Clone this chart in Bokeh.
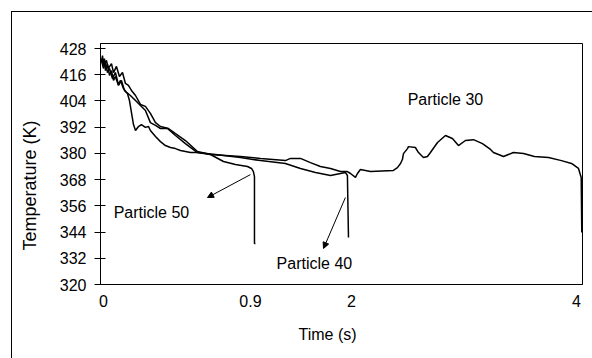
from bokeh.plotting import figure
from bokeh.models import FixedTicker, Range1d, Label, Arrow, NormalHead, Title
from bokeh.embed import file_html
from bokeh.resources import INLINE

# Time axis (display units) tick positions and their printed labels
x_tick_pos = [0, 1.243, 2.097, 4.0]
x_tick_labels = ["0", "0.9", "2", "4"]
y_ticks = [320, 332, 344, 356, 368, 380, 392, 404, 416, 428]

# Particle 50
t50 = [-0.017, -0.008, 0.0, 0.008, 0.017, 0.034, 0.051, 0.068, 0.085, 0.101, 0.127, 0.152, 0.178,
       0.203, 0.220, 0.237, 0.254, 0.271, 0.296, 0.321, 0.355, 0.381, 0.397, 0.440, 0.482, 0.524,
       0.567, 0.609, 0.651, 0.736, 0.795, 0.905, 1.015, 1.116, 1.218, 1.252, 1.268, 1.277, 1.277, 1.285]
T50 = [421.6, 424.8, 420.2, 423.4, 417.9, 420.7, 415.7, 417.9, 413.4, 415.2, 411.1, 413.4, 408.8,
       407.4, 404.2, 398.7, 393.2, 390.5, 392.3, 393.2, 391.9, 392.3, 390.5, 387.7, 385.4, 383.6,
       382.7, 382.2, 381.3, 380.4, 380.4, 379.5, 376.3, 374.9, 374.0, 373.1, 371.7, 369.4, 338.8, 338.8]

# Particle 40
t40 = [-0.017, 0.0, 0.017, 0.034, 0.051, 0.076, 0.101, 0.127, 0.144, 0.169, 0.195, 0.228, 0.271,
       0.313, 0.355, 0.397, 0.440, 0.482, 0.541, 0.609, 0.693, 0.795, 0.947, 1.159, 1.328, 1.539,
       1.666, 1.793, 1.920, 2.004, 2.046, 2.063, 2.072]
T40 = [422.5, 418.9, 421.6, 417.0, 418.9, 414.3, 417.0, 411.5, 413.4, 409.7, 407.9, 406.5, 404.2,
       401.9, 399.6, 394.1, 392.8, 391.4, 391.4, 388.2, 384.5, 380.4, 379.5, 378.1, 376.7, 375.4,
       373.1, 371.3, 369.9, 370.8, 371.3, 369.9, 341.5]

# Particle 30
t30 = [-0.017, 0.0, 0.025, 0.042, 0.068, 0.085, 0.110, 0.135, 0.161, 0.186, 0.211, 0.237, 0.271,
       0.313, 0.355, 0.397, 0.440, 0.482, 0.550, 0.609, 0.693, 0.795, 0.905, 1.159, 1.328, 1.539,
       1.581, 1.666, 1.750, 1.835, 1.920, 2.004, 2.063, 2.089, 2.131, 2.148, 2.173, 2.258, 2.452,
       2.486, 2.512, 2.528, 2.537, 2.571, 2.579, 2.638, 2.664, 2.706, 2.740, 2.765, 2.825, 2.892,
       2.951, 3.002, 3.061, 3.129, 3.205, 3.273, 3.298, 3.383, 3.467, 3.552, 3.645, 3.764, 3.873,
       3.958, 4.017, 4.040, 4.045]
T30 = [423.4, 420.7, 422.5, 418.9, 421.1, 417.0, 419.8, 415.2, 417.0, 412.0, 411.1, 408.8, 406.5,
       402.4, 401.5, 398.3, 394.1, 392.3, 391.4, 389.1, 385.9, 380.9, 379.5, 378.6, 377.7, 376.7,
       377.7, 377.7, 375.8, 374.0, 373.1, 371.7, 371.7, 370.8, 369.0, 370.8, 372.6, 371.7, 372.2,
       373.5, 375.4, 377.2, 379.9, 382.2, 383.1, 382.7, 380.4, 378.1, 378.6, 380.4, 385.0, 388.2,
       386.8, 383.6, 385.9, 386.3, 384.5, 381.8, 380.4, 378.6, 380.4, 380.0, 378.6, 378.1, 376.7,
       375.4, 373.1, 369.0, 343.8]

FONT = "Liberation Sans"

# outer chart border drawn as two 1px lines (left and top) behind a transparent canvas border
border_css = ("linear-gradient(#000, #000) 11px 11px / 1px 400px no-repeat, "
              "linear-gradient(#000, #000) 11px 11px / 700px 1px no-repeat, #fff")

p = figure(width=592, height=358, output_backend="svg", toolbar_location=None,
           x_range=Range1d(-0.025, 4.051), y_range=Range1d(320, 430.3),
           min_border_left=100, min_border_right=10, min_border_top=43, min_border_bottom=74,
           styles={"background": border_css})
p.background_fill_color = "white"
p.border_fill_color = None
p.outline_line_color = "black"
p.outline_line_width = 1
p.xgrid.visible = False
p.ygrid.visible = False

for t, T in [(t50, T50), (t40, T40), (t30, T30)]:
    p.line(t, T, line_color="black", line_width=1.5)

# y axis
ya = p.yaxis[0]
ya.ticker = FixedTicker(ticks=y_ticks)
ya.minor_tick_line_color = None
ya.major_tick_in = 5
ya.major_tick_out = 6
ya.major_label_standoff = 8
ya.major_label_text_font = FONT
ya.major_label_text_font_size = "16px"
ya.major_label_text_color = "black"
ya.axis_line_color = "black"
ya.major_tick_line_color = "black"

# x axis
xa = p.xaxis[0]
xa.ticker = FixedTicker(ticks=x_tick_pos)
xa.major_label_overrides = {pos: lab for pos, lab in zip(x_tick_pos, x_tick_labels)}
xa.minor_tick_line_color = None
xa.major_tick_line_color = None
xa.major_tick_in = 0
xa.major_tick_out = 0
xa.major_label_standoff = 10
xa.major_label_text_font = FONT
xa.major_label_text_font_size = "16px"
xa.major_label_text_color = "black"
xa.axis_line_color = "black"

# axis titles
p.add_layout(Title(text="Temperature (K)", align="left", offset=34, standoff=33,
                   text_font=FONT, text_font_size="18px", text_font_style="normal",
                   text_color="black"), "left")
p.add_layout(Title(text="Time (s)", align="left", offset=198, standoff=28,
                   text_font=FONT, text_font_size="16px", text_font_style="normal",
                   text_color="black"), "below")

# annotations
for x, y, txt in [(2.892, 404.7, "Particle 30"), (0.406, 352.9, "Particle 50"), (1.784, 329.6, "Particle 40")]:
    p.add_layout(Label(x=x, y=y, text=txt, text_align="center", text_baseline="middle",
                       text_font=FONT, text_font_size="16px", text_color="black"))

for x0, y0, x1, y1 in [(1.243, 370.3, 0.880, 359.8), (2.046, 359.8, 1.861, 336.5)]:
    p.add_layout(Arrow(x_start=x0, y_start=y0, x_end=x1, y_end=y1, line_color="black", line_width=1,
                       end=NormalHead(size=6, fill_color="black", line_color="black")))

open("out.html", "w").write(file_html(p, INLINE))
